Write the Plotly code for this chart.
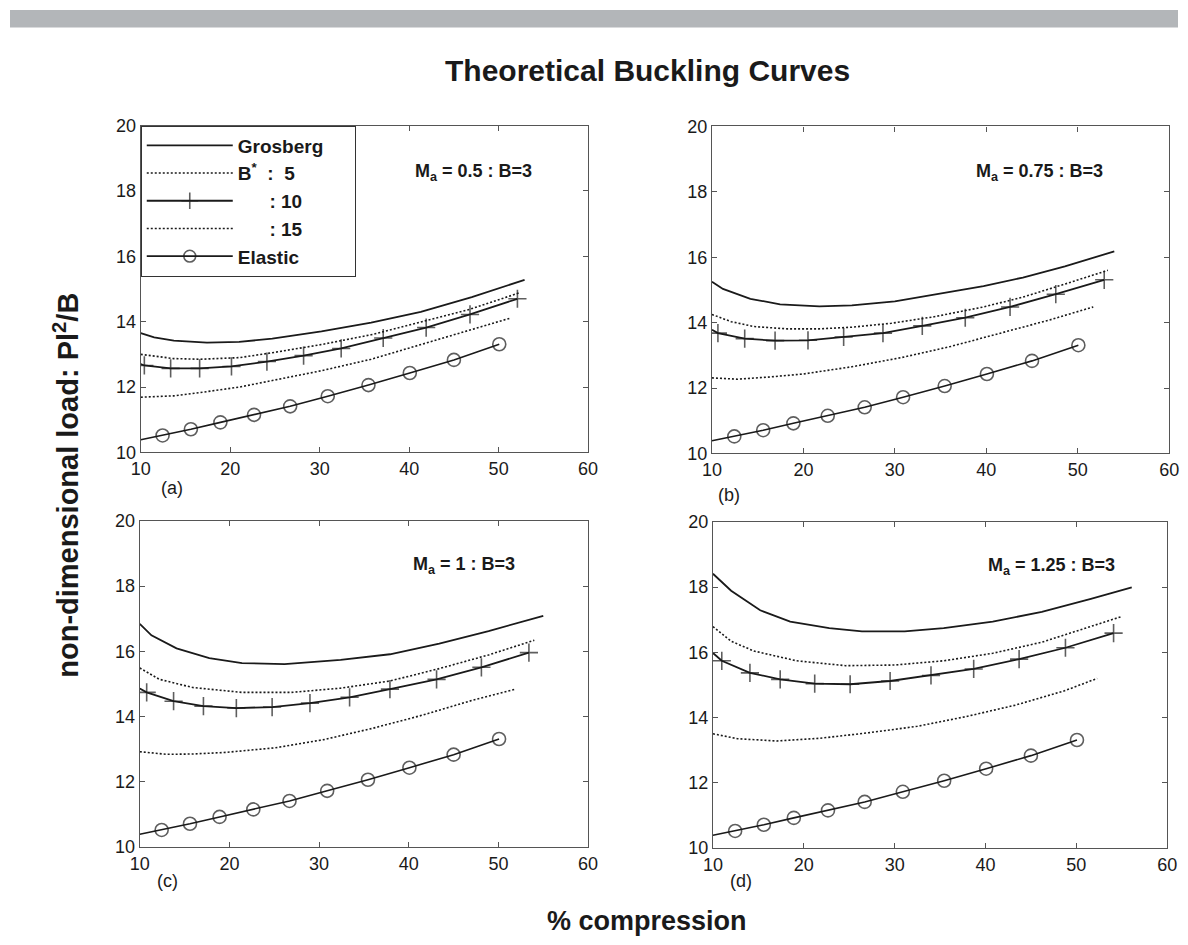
import plotly.graph_objects as go

# ---------------- data ----------------
X_TICKS = [10, 20, 30, 40, 50, 60]
Y_TICKS = [10, 12, 14, 16, 18, 20]

# Elastic curve (identical in all four panels); first point has no marker
elastic_x = [10, 12.44, 15.6, 18.9, 22.66, 26.7, 30.9, 35.45, 40.07, 45.0, 50.07]
elastic_y = [10.39, 10.52, 10.71, 10.92, 11.15, 11.41, 11.72, 12.06, 12.43, 12.83, 13.31]

# Panel (a)  M_a = 0.5
grosberg_a_x = [10, 11.5, 13.7, 17.4, 21.0, 24.7, 30.2, 35.75, 41.3, 47.0, 52.9]
grosberg_a_y = [13.65, 13.52, 13.42, 13.36, 13.38, 13.48, 13.70, 13.97, 14.30, 14.75, 15.28]
b5_a_x = [10, 13.7, 16.65, 21.05, 24.7, 30.2, 35.75, 41.3, 46.8, 52.3]
b5_a_y = [13.0, 12.87, 12.85, 12.9, 13.05, 13.30, 13.6, 14.0, 14.38, 14.88]
b10_a_x = [10, 10.4, 13.34, 16.58, 20.14, 24.1, 28.2, 32.4, 37.1, 41.9, 46.8, 52.1]
b10_a_y = [12.70, 12.66, 12.57, 12.57, 12.63, 12.78, 12.96, 13.18, 13.50, 13.82, 14.22, 14.70]
b15_a_x = [10, 13.7, 17.4, 21.05, 24.7, 30.2, 35.75, 41.3, 46.8, 51.2]
b15_a_y = [11.69, 11.73, 11.86, 12.0, 12.2, 12.5, 12.85, 13.3, 13.75, 14.1]

# Panel (b)  M_a = 0.75
grosberg_b_x = [10, 11.2, 14.2, 17.45, 21.75, 25.3, 30, 34.3, 39.7, 44, 48.6, 54.0]
grosberg_b_y = [15.25, 15.03, 14.73, 14.56, 14.50, 14.53, 14.65, 14.85, 15.12, 15.38, 15.72, 16.18]
b5_b_x = [10, 12.1, 14.6, 18.2, 21.75, 25.3, 29.6, 34.3, 39.7, 44, 48.6, 53.3]
b5_b_y = [14.25, 14.03, 13.88, 13.81, 13.81, 13.86, 13.98, 14.18, 14.48, 14.78, 15.18, 15.6]
b10_b_x = [10, 10.65, 13.58, 16.9, 20.5, 24.4, 28.7, 33.0, 37.7, 42.6, 47.6, 52.9]
b10_b_y = [13.78, 13.68, 13.51, 13.45, 13.46, 13.56, 13.68, 13.90, 14.15, 14.48, 14.87, 15.31]
b15_b_x = [10, 12.8, 16.4, 20, 25.3, 30.7, 36.1, 41.5, 46.9, 51.7]
b15_b_y = [12.31, 12.27, 12.34, 12.43, 12.65, 12.93, 13.27, 13.68, 14.08, 14.48]

# Panel (c)  M_a = 1
grosberg_c_x = [10, 11.3, 14.1, 17.75, 21.4, 26.15, 32.4, 37.9, 43.4, 48.9, 55.0]
grosberg_c_y = [16.84, 16.49, 16.09, 15.79, 15.64, 15.61, 15.74, 15.91, 16.24, 16.62, 17.09]
b5_c_x = [10, 12.2, 15.9, 21.4, 26.9, 32.4, 37.9, 43.4, 48.9, 54.0]
b5_c_y = [15.49, 15.14, 14.89, 14.74, 14.74, 14.87, 15.09, 15.47, 15.89, 16.34]
b10_c_x = [10, 10.77, 13.77, 17.1, 20.77, 24.76, 28.98, 33.4, 37.9, 43.1, 48.1, 53.4]
b10_c_y = [14.86, 14.74, 14.47, 14.32, 14.26, 14.29, 14.41, 14.59, 14.84, 15.14, 15.51, 15.96]
b15_c_x = [10, 13, 15.9, 19.6, 25.1, 30.5, 36, 41.5, 47, 51.9]
b15_c_y = [12.92, 12.84, 12.85, 12.9, 13.04, 13.29, 13.64, 14.04, 14.49, 14.84]

# Panel (d)  M_a = 1.25
grosberg_d_x = [10, 12, 15.2, 18.5, 22.8, 26.4, 31.1, 35.4, 40.8, 46.2, 51.6, 56.1]
grosberg_d_y = [18.41, 17.89, 17.29, 16.94, 16.74, 16.64, 16.64, 16.74, 16.94, 17.24, 17.64, 17.99]
b5_d_x = [10, 12, 14.5, 19.2, 24.6, 30, 35.4, 40.8, 46.2, 51.6, 54.9]
b5_d_y = [16.79, 16.34, 16.04, 15.74, 15.59, 15.61, 15.74, 15.97, 16.31, 16.79, 17.09]
b10_d_x = [10, 10.97, 14.07, 17.4, 21.2, 25.1, 29.5, 34.0, 38.7, 43.7, 48.8, 54.1]
b10_d_y = [15.98, 15.74, 15.37, 15.17, 15.04, 15.02, 15.12, 15.29, 15.49, 15.79, 16.14, 16.59]
b15_d_x = [10, 12.7, 17, 21.7, 27.1, 32.5, 37.9, 43.3, 48.7, 52.3]
b15_d_y = [13.5, 13.35, 13.28, 13.36, 13.53, 13.73, 14.03, 14.38, 14.82, 15.2]

NB = "\u00a0"
legend_names = ["Grosberg" + NB * 5, "B<sup>*</sup>" + NB + " :" + NB + " 5",
                NB * 5 + " : 10", NB * 5 + " : 15", "Elastic"]
panel_tags = ["(a)", "(b)", "(c)", "(d)"]
ma_texts = ["M<sub>a</sub> = 0.5 : B=3", "M<sub>a</sub> = 0.75 : B=3",
            "M<sub>a</sub> = 1 : B=3", "M<sub>a</sub> = 1.25 : B=3"]

# ---------------- layout helpers ----------------
W, H = 1188, 945
FONT = "Liberation Sans, Arial, Helvetica, sans-serif"
INK = "#1a1a1a"

def px_x(p):
    return p / W

def px_y(p):
    return 1 - p / H

# plot areas in pixels: (left, right, top, bottom)
boxes = [(133, 588, 118, 452), (714, 1179, 119, 453),
         (132, 588, 522, 855), (715, 1177, 523, 856)]

panels = [
    (grosberg_a_x, grosberg_a_y, b5_a_x, b5_a_y, b10_a_x, b10_a_y, b15_a_x, b15_a_y),
    (grosberg_b_x, grosberg_b_y, b5_b_x, b5_b_y, b10_b_x, b10_b_y, b15_b_x, b15_b_y),
    (grosberg_c_x, grosberg_c_y, b5_c_x, b5_c_y, b10_c_x, b10_c_y, b15_c_x, b15_c_y),
    (grosberg_d_x, grosberg_d_y, b5_d_x, b5_d_y, b10_d_x, b10_d_y, b15_d_x, b15_d_y),
]

fig = go.Figure()
DOT = "2px,2px"
LW = 1.8

for i, (gx, gy, b5x, b5y, b10x, b10y, b15x, b15y) in enumerate(panels):
    sfx = "" if i == 0 else str(i + 1)
    xa, ya = "x" + sfx, "y" + sfx
    show = i == 0
    fig.add_trace(go.Scatter(x=gx, y=gy, mode="lines", name=legend_names[0],
                             line=dict(color=INK, width=LW), xaxis=xa, yaxis=ya,
                             showlegend=show, legendrank=1))
    fig.add_trace(go.Scatter(x=b5x, y=b5y, mode="lines", name=legend_names[1],
                             line=dict(color=INK, width=1.6, dash=DOT), xaxis=xa, yaxis=ya,
                             showlegend=show, legendrank=2))
    fig.add_trace(go.Scatter(x=b10x, y=b10y, mode="lines+markers", name=legend_names[2],
                             line=dict(color=INK, width=LW),
                             marker=dict(symbol="cross-thin-open", color=INK,
                                         size=[0] + [13] * (len(b10x) - 1),
                                         line=dict(color=INK, width=1.6)),
                             xaxis=xa, yaxis=ya, showlegend=show, legendrank=3))
    fig.add_trace(go.Scatter(x=b15x, y=b15y, mode="lines", name=legend_names[3],
                             line=dict(color=INK, width=1.6, dash=DOT), xaxis=xa, yaxis=ya,
                             showlegend=show, legendrank=4))
    fig.add_trace(go.Scatter(x=elastic_x, y=elastic_y, mode="lines+markers", name=legend_names[4],
                             line=dict(color=INK, width=1.6),
                             marker=dict(symbol="circle-open", color=INK,
                                         size=[0] + [13] * (len(elastic_x) - 1),
                                         line=dict(color=INK, width=1.6)),
                             xaxis=xa, yaxis=ya, showlegend=show, legendrank=5))

axis_common = dict(showline=True, mirror="ticks", linecolor="#555555", linewidth=1.2,
                   ticks="inside", ticklen=5, tickwidth=1, tickcolor="#555555",
                   showgrid=False, zeroline=False,
                   tickfont=dict(family=FONT, size=18, color=INK))

layout_axes = {}
for i, (l, r, t, b) in enumerate(boxes):
    sfx = "" if i == 0 else str(i + 1)
    layout_axes["xaxis" + sfx] = dict(axis_common, domain=[px_x(l), px_x(r)], range=[10, 60],
                                      tickvals=X_TICKS, anchor="y" + sfx)
    layout_axes["yaxis" + sfx] = dict(axis_common, domain=[px_y(b), px_y(t)], range=[10, 20],
                                      tickvals=Y_TICKS, anchor="x" + sfx)

annotations = [
    dict(text="Theoretical Buckling Curves", x=px_x(648), y=px_y(62),
         font=dict(family=FONT, size=30, color=INK, weight="bold")),
    dict(text="% compression", x=px_x(648), y=px_y(931),
         font=dict(family=FONT, size=27, color=INK, weight="bold")),
    dict(text="non-dimensional load: Pl<sup>2</sup>/B", x=px_x(57), y=px_y(486), textangle=-90,
         font=dict(family=FONT, size=29, color=INK, weight="bold")),
]
tag_pos = [(165, 488), (731, 495), (160, 890), (744, 890)]
for tag, (tx, ty) in zip(panel_tags, tag_pos):
    annotations.append(dict(text=tag, x=px_x(tx), y=px_y(ty),
                            font=dict(family=FONT, size=18, color=INK)))
ma_pos = [(410, 166), (980, 166), (408, 568), (993, 569)]
for txt, (mx, my) in zip(ma_texts, ma_pos):
    annotations.append(dict(text=txt, x=px_x(mx), y=px_y(my), xanchor="left",
                            font=dict(family=FONT, size=18, color=INK, weight="bold")))
for a in annotations:
    a.update(xref="paper", yref="paper", showarrow=False)
    a.setdefault("xanchor", "center")
    a.setdefault("yanchor", "middle")

fig.update_layout(
    width=W, height=H, margin=dict(l=0, r=0, t=0, b=0),
    paper_bgcolor="white", plot_bgcolor="white",
    showlegend=True,
    legend=dict(x=px_x(133), y=px_y(118), xanchor="left", yanchor="top",
                bgcolor="white", bordercolor="#333333", borderwidth=1,
                itemwidth=86, tracegroupgap=0,
                font=dict(family=FONT, size=19, color=INK, weight="bold")),
    annotations=annotations,
    shapes=[dict(type="rect", xref="paper", yref="paper", x0=0, x1=1, y0=px_y(18), y1=1,
                 fillcolor="#b3b6b9", line=dict(width=0), layer="below")],
    **layout_axes,
)

fig.write_html("out.html")
